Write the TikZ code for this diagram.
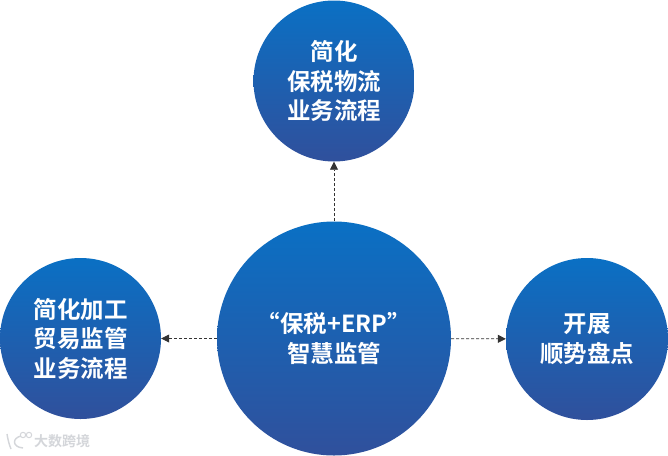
\documentclass[tikz,border=0pt]{standalone}
\usepackage{fontspec}
\setmainfont{Noto Sans CJK SC}[BoldFont={Noto Sans CJK SC Bold}]
\newfontfamily\cjkbold{Noto Sans CJK SC Bold}
\usetikzlibrary{arrows.meta}
\definecolor{circtop}{HTML}{0A70C4}
\definecolor{circbot}{HTML}{30509C}
\definecolor{wm}{HTML}{D4D6DA}
\tikzset{
  x=1pt,y=-1pt,
  bubble/.style={circle,inner sep=0pt,minimum size=#1,top color=circtop,bottom color=circbot,draw=none,
    text=white,align=center,font=\cjkbold\fontsize{23.5}{29.5}\selectfont},
  link/.style={densely dashed,line width=0.8pt,draw=black!80,-{Triangle[length=8pt,width=8pt]}},
  mark text/.style={text=wm,font=\cjkbold\fontsize{14}{16}\selectfont,inner sep=0pt},
}
\begin{document}
\begin{tikzpicture}
\useasboundingbox (0,0) rectangle (668,455);
\fill[white] (0,0) rectangle (668,455);
\node[bubble=234pt] (c) at (334,338.5) {“保税+ERP”\\智慧监管};
\node[bubble=161pt] (t) at (334,81) {简化\\保税物流\\业务流程};
\node[bubble=161pt] (l) at (80.5,338.5) {简化加工\\贸易监管\\业务流程};
\node[bubble=162pt] (r) at (587,339) {开展\\顺势盘点};
\draw[link] (c) -- (t);
\draw[link] (c) -- (l);
\draw[link] (c) -- (r);
\node[mark text,anchor=west] (w) at (34,441) {大数跨境};
\draw[wm,line width=1.4pt] (7,434) .. controls (8,440) and (9,444) .. (11,449) (21,436) .. controls (12,438) and (12,447) .. (23,448);
\draw[wm,line width=1pt] (23,435) circle (2.7) (29,435) circle (2.7);
\end{tikzpicture}
\end{document}
